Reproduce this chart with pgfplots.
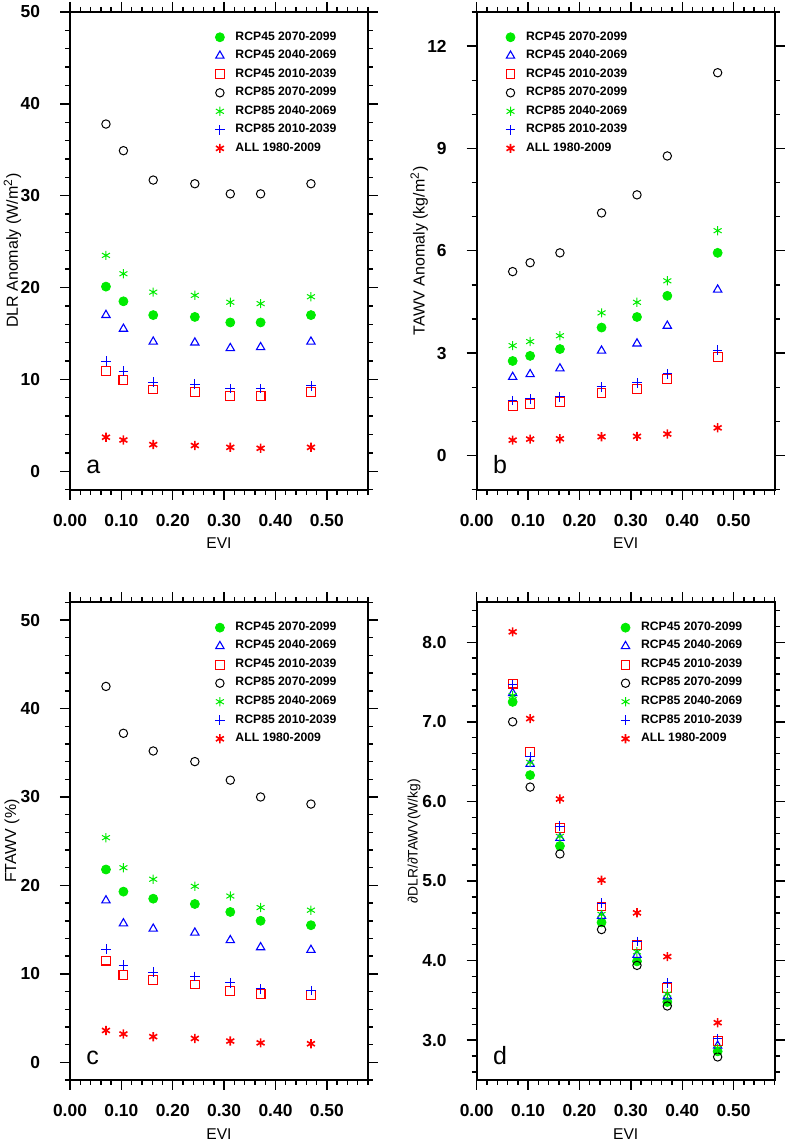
\documentclass[border=0pt]{standalone}
\usepackage{fontspec}
\setmainfont{Liberation Sans}
\usepackage{pgfplots}
\usepackage{pgfplotstable}
\pgfplotsset{compat=1.18}

\definecolor{ngreen}{RGB}{0,235,0}
\definecolor{nblue}{RGB}{0,0,255}
\definecolor{nred}{RGB}{255,0,0}

% columns: s1 RCP45 2070-2099, s2 RCP45 2040-2069, s3 RCP45 2010-2039,
%          s4 RCP85 2070-2099, s5 RCP85 2040-2069, s6 RCP85 2010-2039, s7 ALL 1980-2009
\pgfplotstableread{
x     s1    s2    s3    s4    s5    s6    s7
0.070 20.1  17.0  10.9  37.8  23.5  12.0  3.7
0.104 18.5  15.5  9.9   34.9  21.5  10.9  3.4
0.162 17.0  14.1  8.9   31.7  19.5  9.7   2.9
0.243 16.8  14.0  8.6   31.3  19.15 9.5   2.8
0.312 16.2  13.4  8.2   30.2  18.4  9.0   2.6
0.371 16.2  13.5  8.2   30.2  18.25 9.0   2.5
0.469 17.0  14.1  8.6   31.3  19.0  9.3   2.6
}\tabA
\pgfplotstableread{
x     s1    s2    s3    s4    s5    s6    s7
0.070 2.77  2.30  1.46  5.39  3.22  1.61  0.45
0.104 2.92  2.38  1.50  5.65  3.34  1.66  0.48
0.162 3.12  2.55  1.56  5.94  3.51  1.72  0.49
0.243 3.75  3.07  1.84  7.11  4.18  2.01  0.55
0.312 4.06  3.28  1.95  7.64  4.49  2.13  0.56
0.371 4.68  3.80  2.25  8.78  5.12  2.39  0.63
0.469 5.94  4.86  2.89  11.22 6.59  3.09  0.81
}\tabB
\pgfplotstableread{
x     s1    s2    s3    s4    s5    s6    s7
0.070 21.8  18.3  11.5  42.5  25.4  12.8  3.6
0.104 19.3  15.7  9.9   37.2  22.0  11.0  3.2
0.162 18.5  15.1  9.3   35.2  20.7  10.2  2.9
0.243 17.9  14.65 8.8   34.0  19.9  9.7   2.7
0.312 17.0  13.8  8.1   31.9  18.8  9.0   2.4
0.371 16.0  13.0  7.7   30.0  17.5  8.3   2.2
0.469 15.5  12.7  7.6   29.2  17.2  8.1   2.1
}\tabC
\pgfplotstableread{
x     s1    s2    s3    s4    s5    s6    s7
0.070 7.25  7.36  7.48  7.00  7.33  7.47  8.13
0.104 6.33  6.47  6.62  6.18  6.49  6.56  7.04
0.162 5.44  5.54  5.67  5.34  5.56  5.69  6.03
0.243 4.48  4.56  4.68  4.39  4.58  4.72  5.01
0.312 3.99  4.07  4.20  3.94  4.11  4.24  4.60
0.371 3.48  3.55  3.66  3.43  3.58  3.72  4.05
0.469 2.86  2.93  2.99  2.79  2.90  3.02  3.22
}\tabD

\pgfplotsset{
  panel/.style={
    scale only axis, width=149pt, height=238.8pt, anchor=south west,
    xmin=0, xmax=0.58,
    xtick={0,0.1,0.2,0.3,0.4,0.5},
    minor xtick={0.02,0.04,0.06,0.08,0.12,0.14,0.16,0.18,0.22,0.24,0.26,0.28,0.32,0.34,0.36,0.38,0.42,0.44,0.46,0.48,0.52,0.54,0.56,0.58},
    tick align=outside, tick pos=both,
    major tick length=5pt, minor tick length=2.5pt,
    every tick/.style={black, line width=0.7pt},
    axis line style={line width=1pt},
    /pgf/number format/assume math mode=true,
    ticklabel style={font=\bfseries\fontsize{8.7}{10}\selectfont},
    xticklabel style={yshift=-3.8pt, /pgf/number format/.cd, fixed, fixed zerofill, precision=2},
    yticklabel style={xshift=-6.5pt},
    xlabel={EVI},
    xlabel style={at={(axis description cs:0.5,-0.113)}, anchor=center, font=\fontsize{7.8}{9}\selectfont},
    ylabel style={anchor=center, font=\fontsize{8}{9}\selectfont},
    legend cell align=left,
    legend style={draw=none, fill=none, anchor=north west, inner sep=0pt,
      row sep=3.5pt, column sep=5.4pt, nodes={inner sep=0pt},
      font=\bfseries\fontsize{6.1}{7}\selectfont},
    legend image code/.code={\draw[mark repeat=2,mark phase=2,##1] plot coordinates {(0pt,0pt) (4pt,0pt) (8pt,0pt)};},
  },
  s1/.style={only marks, mark=*, mark size=2.25pt, color=ngreen},
  s2/.style={only marks, mark=triangle, mark size=2.4pt, color=nblue, line width=0.55pt},
  s3/.style={only marks, mark=square, mark size=2.2pt, color=nred, line width=0.55pt},
  s4/.style={only marks, mark=o, mark size=2.1pt, color=black, line width=0.5pt},
  s5/.style={only marks, mark=asterisk, mark size=2.3pt, color=ngreen, line width=0.5pt},
  s6/.style={only marks, mark=+, mark size=2.4pt, color=nblue, line width=0.45pt},
  s7/.style={only marks, mark=asterisk, mark size=2.3pt, color=nred, line width=0.8pt},
}

\newcommand{\allseries}[1]{%
  \addplot[s1] table[x=x,y=s1]{#1};
  \addplot[s2] table[x=x,y=s2]{#1};
  \addplot[s3] table[x=x,y=s3]{#1};
  \addplot[s4] table[x=x,y=s4]{#1};
  \addplot[s5] table[x=x,y=s5]{#1};
  \addplot[s6] table[x=x,y=s6]{#1};
  \addplot[s7] table[x=x,y=s7]{#1};
  \legend{RCP45 2070-2099, RCP45 2040-2069, RCP45 2010-2039, RCP85 2070-2099, RCP85 2040-2069, RCP85 2010-2039, ALL 1980-2009}
}

\begin{document}
\begin{tikzpicture}
\path[use as bounding box] (0,0) rectangle (393.5pt,571pt);

% a
\begin{axis}[panel, at={(35pt,326.2pt)},
    ymin=-2, ymax=50, ytick={0,10,...,50},
    minor ytick={-2,2,4,6,8,12,14,16,18,22,24,26,28,32,34,36,38,42,44,46,48},
    ylabel={DLR Anomaly (W/m\textsuperscript{2})},
    ylabel style={at={(axis description cs:-0.193,0.5)}},
    legend style={at={(axis description cs:0.4856,0.960)}}]
\allseries{\tabA}
\node[anchor=base west, inner sep=0pt, font=\fontsize{12.5}{14}\selectfont] at (axis description cs:0.054,0.0335) {a};
\end{axis}

% b
\begin{axis}[panel, at={(238.35pt,326.2pt)},
    ymin=-1, ymax=13, ytick={0,3,...,12},
    minor ytick={-1,1,2,4,5,7,8,10,11,13},
    ylabel={TAWV Anomaly (kg/m\textsuperscript{2})},
    ylabel style={at={(axis description cs:-0.193,0.5)}},
    legend style={at={(axis description cs:0.096,0.960)}}]
\allseries{\tabB}
\node[anchor=base west, inner sep=0pt, font=\fontsize{12.5}{14}\selectfont] at (axis description cs:0.054,0.0335) {b};
\end{axis}

% c
\begin{axis}[panel, at={(35pt,31pt)},
    ymin=-2, ymax=52, ytick={0,10,...,50},
    minor ytick={-2,2,4,6,8,12,14,16,18,22,24,26,28,32,34,36,38,42,44,46,48,52},
    ylabel={FTAWV (\%)},
    ylabel style={at={(axis description cs:-0.195,0.5)}},
    legend style={at={(axis description cs:0.4856,0.960)}}]
\allseries{\tabC}
\node[anchor=base west, inner sep=0pt, font=\fontsize{12.5}{14}\selectfont] at (axis description cs:0.054,0.0335) {c};
\end{axis}

% d
\begin{axis}[panel, at={(238.35pt,31pt)},
    ymin=2.5, ymax=8.5, ytick={3,4,5,6,7,8},
    minor ytick={2.6,2.8,3.2,3.4,3.6,3.8,4.2,4.4,4.6,4.8,5.2,5.4,5.6,5.8,6.2,6.4,6.6,6.8,7.2,7.4,7.6,7.8,8.2,8.4},
    yticklabel style={/pgf/number format/.cd, fixed, fixed zerofill, precision=1},
    ylabel={∂DLR/∂TAWV(W/kg)},
    ylabel style={at={(axis description cs:-0.21,0.5)}, font=\fontsize{6.9}{8}\selectfont},
    legend style={at={(axis description cs:0.482,0.960)}}]
\allseries{\tabD}
\node[anchor=base west, inner sep=0pt, font=\fontsize{12.5}{14}\selectfont] at (axis description cs:0.054,0.0335) {d};
\end{axis}
\end{tikzpicture}
\end{document}
